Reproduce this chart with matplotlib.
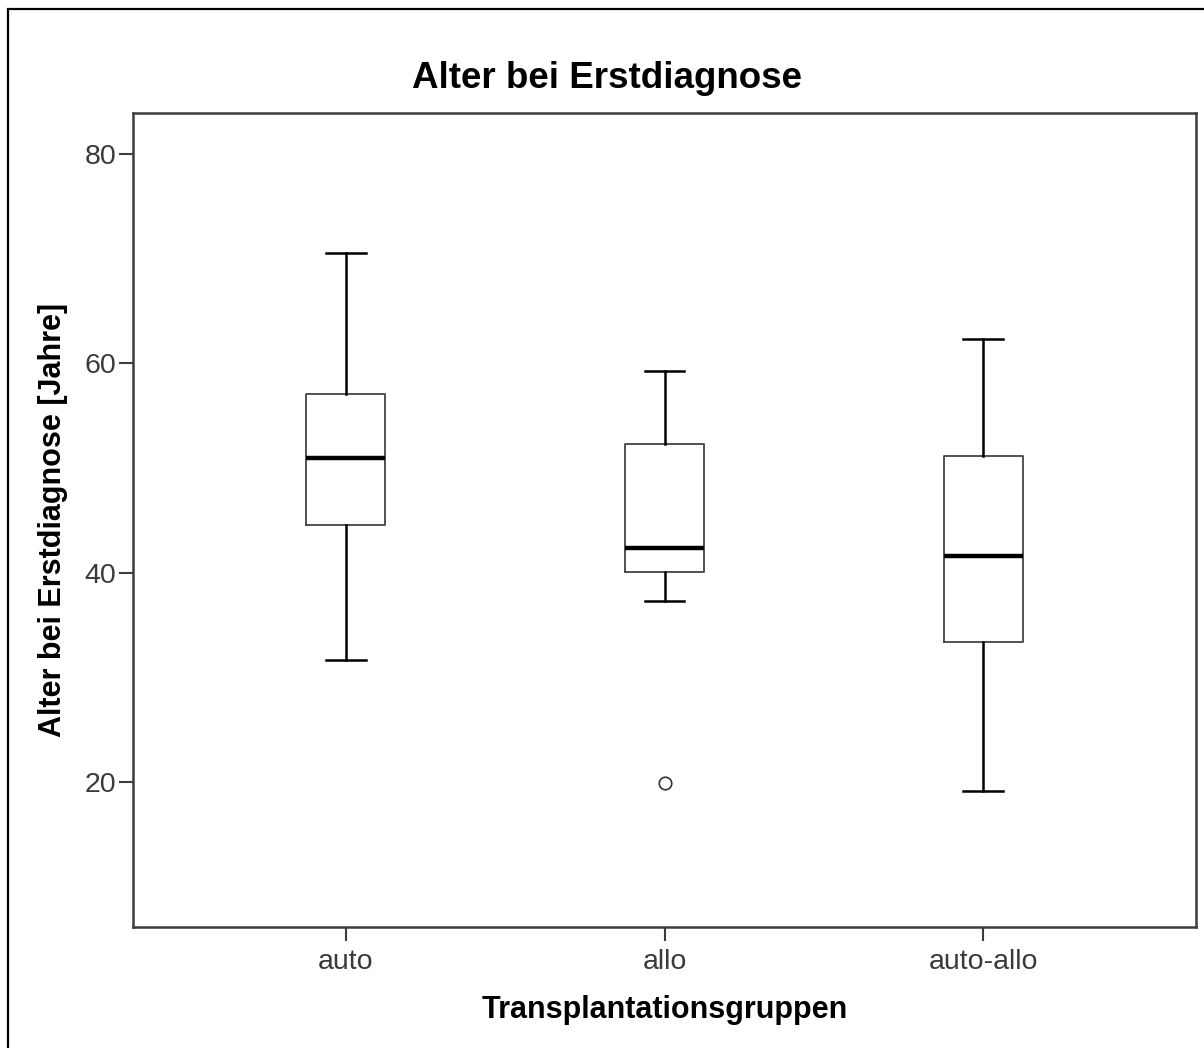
import matplotlib
matplotlib.use("Agg")
import matplotlib.pyplot as plt
from matplotlib.patches import Rectangle

# Data
categories = ["auto", "allo", "auto-allo"]
whisker_low = [31.7, 37.3, 19.2]
q1_values = [44.6, 40.1, 33.4]
medians = [51.0, 42.4, 41.6]
q3_values = [57.1, 52.3, 51.2]
whisker_high = [70.5, 59.3, 62.3]
outliers = [[], [19.9], []]
y_ticks = [20, 40, 60, 80]

plt.rcParams['font.family'] = ['Liberation Sans', 'DejaVu Sans']

W, H = 1204, 1048
fig = plt.figure(figsize=(W / 100, H / 100), dpi=100)
fig.patch.set_facecolor('white')

# outer frame
fig.add_artist(Rectangle((8 / W, -0.05), 1.2, (H - 9) / H + 0.05, transform=fig.transFigure,
                         fill=False, edgecolor='black', linewidth=1.6))

ax = fig.add_axes([133 / W, (H - 927) / H, (1196 - 133) / W, (927 - 113) / H])

stats = []
for i, cat in enumerate(categories):
    stats.append(dict(label=cat, med=medians[i], q1=q1_values[i], q3=q3_values[i],
                      whislo=whisker_low[i], whishi=whisker_high[i], fliers=outliers[i]))

positions = list(range(1, len(categories) + 1))
ax.bxp(stats, positions=positions, widths=0.25, capwidths=0.125, showfliers=True,
       boxprops=dict(color='#444444', linewidth=1.3),
       whiskerprops=dict(color='black', linewidth=1.8),
       capprops=dict(color='black', linewidth=1.8),
       medianprops=dict(color='black', linewidth=3.2),
       flierprops=dict(marker='o', markersize=9, markerfacecolor='white',
                       markeredgecolor='#333333', markeredgewidth=1.2))

ax.set_xlim(1 / 3, 11 / 3)
ax.set_ylim(6.2, 83.9)
ax.set_yticks(y_ticks)
ax.set_yticklabels([str(v) for v in y_ticks])
ax.set_xticks(positions)
ax.set_xticklabels(categories)

for s in ax.spines.values():
    s.set_color('#3c3c3c')
    s.set_linewidth(1.8)

ax.tick_params(axis='both', direction='out', length=10, width=1.5, color='#3c3c3c',
               labelsize=20.5, labelcolor='#3a3a3a')
ax.tick_params(axis='x', pad=6)
ax.tick_params(axis='y', pad=2)

ax.set_xlabel("Transplantationsgruppen", fontsize=22, fontweight='bold', labelpad=14)
ax.set_ylabel("Alter bei Erstdiagnose [Jahre]", fontsize=22, fontweight='bold', labelpad=12)

fig.text(607 / W, 1 - 79 / H, "Alter bei Erstdiagnose", ha='center', va='center',
         fontsize=26.5, fontweight='bold')

fig.savefig("out.png", dpi=100, facecolor='white')
